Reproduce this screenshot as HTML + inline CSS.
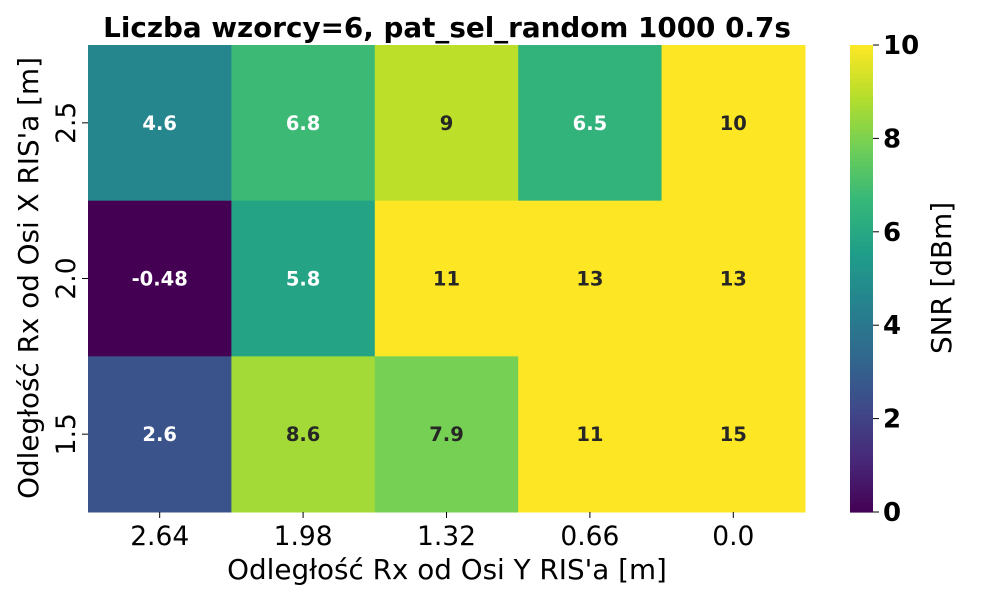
<!DOCTYPE html>
<html><head><meta charset="utf-8"><style>
body{margin:0;background:#fff;font-family:"Liberation Sans","DejaVu Sans",sans-serif;}
</style></head><body>
<svg id="chart" width="1000" height="600" xmlns="http://www.w3.org/2000/svg" font-family="'DejaVu Sans','Liberation Sans',sans-serif">
<text x="447" y="37" text-anchor="middle" font-size="27.8" font-weight="bold">Liczba wzorcy=6, pat_sel_random 1000 0.7s</text>
<g id="cells"></g>
<g id="xt"></g><g id="yt"></g><g id="cb"></g>
<text x="447" y="579" text-anchor="middle" font-size="27.8">Odległość Rx od Osi Y RIS'a [m]</text>
<text transform="translate(38,278) rotate(-90)" text-anchor="middle" font-size="27.8">Odległość Rx od Osi X RIS'a [m]</text>
<text transform="translate(951,278) rotate(-90)" text-anchor="middle" font-size="27.8">SNR [dBm]</text>
</svg>
<script>
const xLabels=["2.64","1.98","1.32","0.66","0.0"];
const yLabels=["2.5","2.0","1.5"];
const row0=[4.6,6.8,9,6.5,10];
const row1=[-0.48,5.8,11,13,13];
const row2=[2.6,8.6,7.9,11,15];
const cbTicks=[0,2,4,6,8,10];
const vals=[row0,row1,row2];
const vmin=0,vmax=10;
const X0=88,X1=805,Y0=45,Y1=512;
const cw=(X1-X0)/xLabels.length, rh=(Y1-Y0)/yLabels.length;
const V=["#440154","#482878","#3e4989","#31688e","#26828e","#1f9e89","#35b779","#6ece58","#b5de2b","#fde725"];
function vir(v){let t=Math.max(0,Math.min(1,(v-vmin)/(vmax-vmin)))*(V.length-1);let i=Math.min(Math.floor(t),V.length-2),f=t-i;
const a=V[i],b=V[i+1];const p=(s,k)=>parseInt(s.substr(k,2),16);
let c=[1,3,5].map(k=>Math.round(p(a,k)+(p(b,k)-p(a,k))*f));return `rgb(${c.join(',')})`;}
const NS="http://www.w3.org/2000/svg";
function mk(t,at,par,txt){const e=document.createElementNS(NS,t);for(const k in at)e.setAttribute(k,at[k]);if(txt!==undefined)e.textContent=txt;document.getElementById(par).appendChild(e);return e;}
vals.forEach((r,j)=>r.forEach((v,i)=>{
const c=mk('rect',{x:X0+i*cw,y:Y0+j*rh,width:cw+0.5,height:rh+0.5,fill:vir(v)},'cells');


const t=mk('text',{x:X0+(i+.5)*cw,y:Y0+(j+.5)*rh+7,'text-anchor':'middle','font-size':19.5,'font-weight':'bold',fill:v>7?'#262626':'#fff'},'cells',String(v));


}));
xLabels.forEach((l,i)=>{const x=X0+(i+.5)*cw;
mk('line',{x1:x,x2:x,y1:Y1,y2:Y1+6,stroke:'#000'},'xt');
const t=mk('text',{x:x,y:Y1+33,'text-anchor':'middle','font-size':26.5},'xt',l);

});
yLabels.forEach((l,j)=>{const y=Y0+(j+.5)*rh;
mk('line',{x1:X0-6,x2:X0,y1:y,y2:y,stroke:'#000'},'yt');
const t=mk('text',{transform:`translate(${X0-13},${y}) rotate(-90)`,'text-anchor':'middle','font-size':26.5},'yt',l);

});
const CX=850,CW=23,N=100;
for(let k=0;k<N;k++){const v=vmin+(k+.5)/N*(vmax-vmin);const y0=Y1-(k+1)/N*(Y1-Y0);
const r=mk('rect',{x:CX,y:y0,width:CW,height:(Y1-Y0)/N+0.6,fill:vir(v)},'cb');

}
cbTicks.forEach(v=>{const y=Y1-(v-vmin)/(vmax-vmin)*(Y1-Y0);
mk('line',{x1:CX+CW,x2:CX+CW+6,y1:y,y2:y,stroke:'#000'},'cb');
const t=mk('text',{x:CX+CW+10,y:y+9,'font-size':26,'font-weight':'bold'},'cb',String(v));

});
</script>
</body></html>
